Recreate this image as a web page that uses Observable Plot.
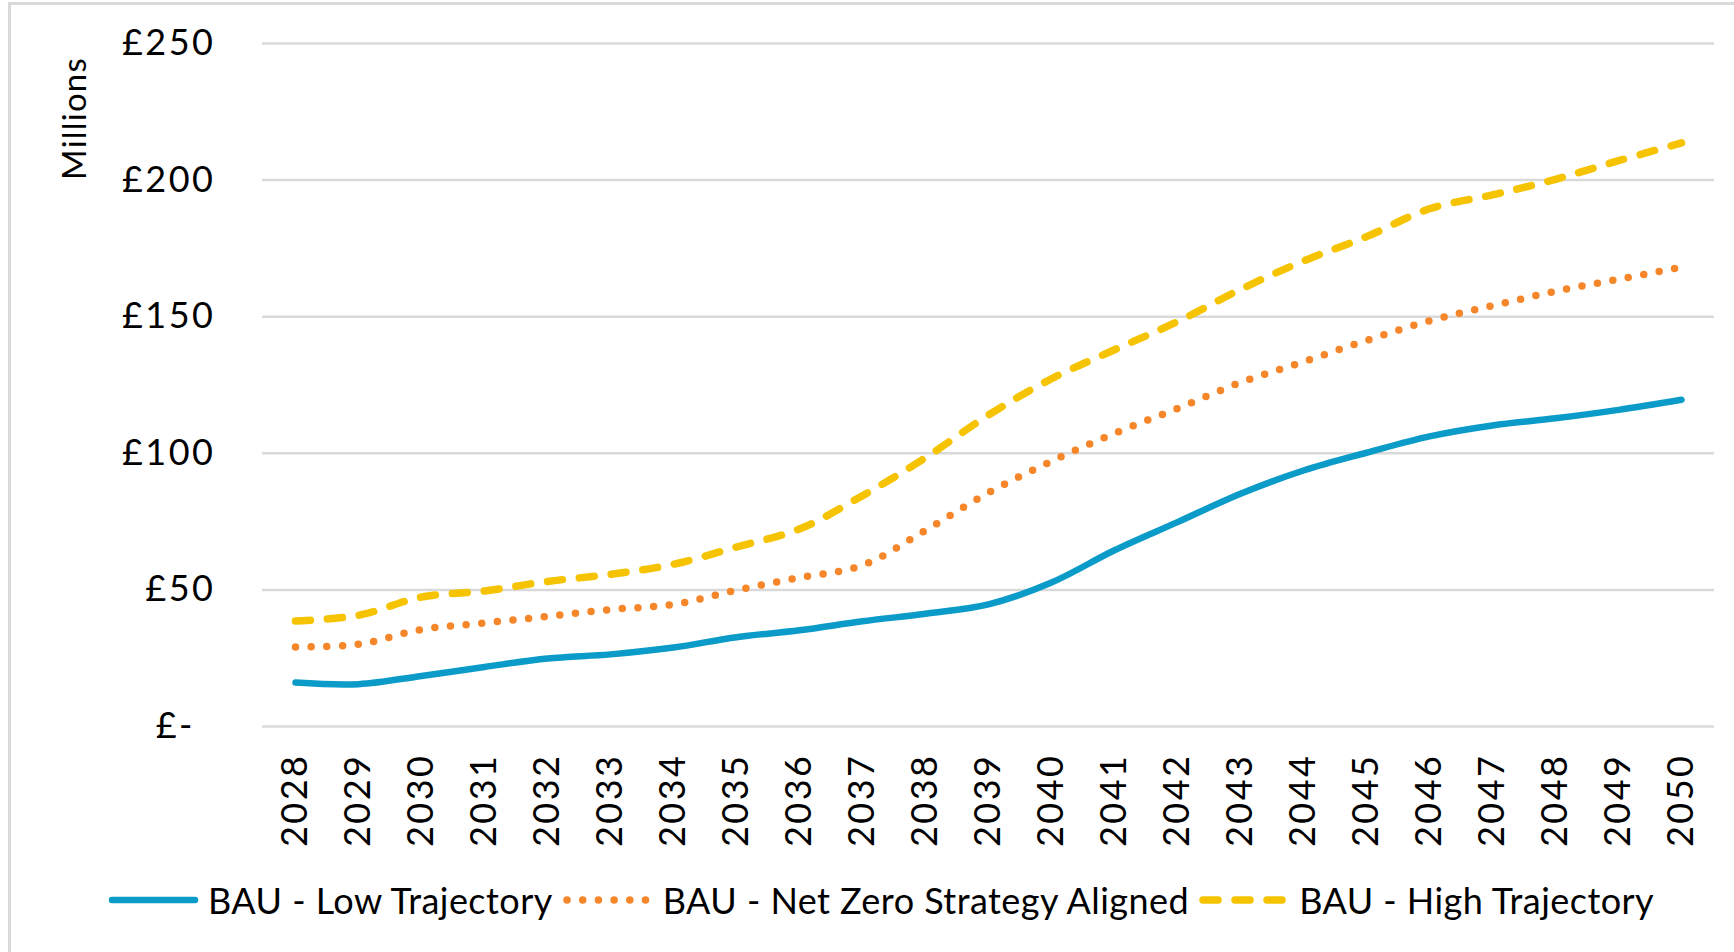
<!DOCTYPE html>
<html>
<head>
<meta charset="utf-8">
<script src="https://cdn.jsdelivr.net/npm/d3@7"></script>
<script src="https://cdn.jsdelivr.net/npm/@observablehq/plot@0.6"></script>
<style>
  html, body { margin: 0; padding: 0; background: #fff; overflow: hidden; }
  body { width: 1734px; height: 952px; position: relative; font-family: Lato, "Open Sans", sans-serif; }
  #frame { position: absolute; left: 8px; top: 2px; width: 1800px; height: 1000px;
           border-left: 3px solid #d9d9d9; border-top: 3px solid #d9d9d9; pointer-events: none; }
  #chart { position: absolute; left: 0; top: 0; }
  #chart svg text { letter-spacing: 2.5px; }
  #legend { position: absolute; left: 0; top: 870px; height: 60px; width: 1734px;
            display: flex; align-items: center; font-size: 36px; letter-spacing: 0.45px; color: #000; }
  .item { display: flex; align-items: center; white-space: nowrap; }
  .item svg { display: block; margin-right: 9px; }
</style>
</head>
<body>
<div id="frame"></div>
<div id="chart"></div>
<div id="legend"></div>
<script>
const years = [2028, 2029, 2030, 2031, 2032, 2033, 2034, 2035, 2036, 2037, 2038, 2039,
               2040, 2041, 2042, 2043, 2044, 2045, 2046, 2047, 2048, 2049, 2050];
const lowTrajectory = [16.1, 15.5, 18.5, 21.8, 24.9, 26.4, 28.9, 32.7, 35.2, 38.5, 41.3, 44.7,
                       52.7, 64.5, 74.8, 85.2, 93.7, 100.2, 106.2, 110.2, 112.8, 115.9, 119.6];
const netZeroAligned = [29.1, 30.1, 35.5, 37.9, 40.3, 42.8, 44.7, 49.9, 54.5, 59.0, 71.8, 85.6,
                        97.1, 107.3, 116.4, 125.9, 133.5, 141.3, 148.5, 154.0, 159.3, 163.7, 168.1];
const highTrajectory = [38.6, 40.7, 47.4, 49.6, 53.1, 55.7, 59.4, 65.7, 72.3, 84.5, 98.4, 114.0,
                        127.3, 137.9, 148.2, 160.0, 170.4, 179.3, 189.5, 194.6, 200.3, 207.1, 213.6];
const yTicks = [0, 50, 100, 150, 200, 250];
const seriesNames = ["BAU - Low Trajectory", "BAU - Net Zero Strategy Aligned", "BAU - High Trajectory"];
const seriesColors = ["#0a9bc8", "#f5862a", "#f5c300"];
const yLabel = "Millions";

const rows = (vals, name) => years.map((yr, i) => ({year: String(yr), value: vals[i], series: name}));
const lowRows = rows(lowTrajectory, seriesNames[0]);
const nzRows = rows(netZeroAligned, seriesNames[1]);
const highRows = rows(highTrajectory, seriesNames[2]);

const chart = Plot.plot({
  width: 1734,
  height: 860,
  marginLeft: 262,
  marginRight: 20,
  marginTop: 43,
  marginBottom: 134,
  style: {fontFamily: "Lato, 'Open Sans', sans-serif", fontSize: "36px", color: "#000", background: "transparent"},
  x: {type: "point", domain: years.map(String), padding: 0.5},
  y: {domain: [0, 250]},
  marks: [
    Plot.ruleY(yTicks, {stroke: "#d9d9d9", strokeWidth: 2.5}),
    Plot.axisY(yTicks, {tickSize: 0, tickPadding: 47, label: null,
      tickFormat: d => d === 0 ? "£-\u2002" : "£" + d}),
    Plot.axisX({tickSize: 0, tickPadding: 27, tickRotate: -90, label: null}),
    Plot.text([yLabel], {frameAnchor: "top-left", dx: -187, dy: 75, rotate: -90,
      textAnchor: "middle", lineAnchor: "middle", fontSize: 33, fill: "#000"}),
    Plot.line(lowRows, {x: "year", y: "value", stroke: seriesColors[0], strokeWidth: 6.5,
      curve: "catmull-rom", strokeLinecap: "round", strokeLinejoin: "round"}),
    Plot.line(nzRows, {x: "year", y: "value", stroke: seriesColors[1], strokeWidth: 7.5,
      curve: "catmull-rom", strokeLinecap: "round", strokeDasharray: "0 15.7"}),
    Plot.line(highRows, {x: "year", y: "value", stroke: seriesColors[2], strokeWidth: 7.5,
      curve: "catmull-rom", strokeLinecap: "round", strokeDasharray: "15 17"})
  ]
});
document.getElementById("chart").appendChild(chart);
d3.select(chart).selectAll("text")
  .filter(function() { return this.textContent === yLabel; })
  .style("letter-spacing", "1.2px");

// Legend
const legend = document.getElementById("legend");
const swatchStyles = [
  {w: 6.5, dash: null},
  {w: 7.5, dash: "0 15.7"},
  {w: 7.5, dash: "15 17"}
];
const offsets = [108, 10, 10];
seriesNames.forEach((name, i) => {
  const item = document.createElement("div");
  item.className = "item";
  item.style.marginLeft = offsets[i] + "px";
  const ns = "http://www.w3.org/2000/svg";
  const svg = document.createElementNS(ns, "svg");
  svg.setAttribute("width", 91);
  svg.setAttribute("height", 20);
  const line = document.createElementNS(ns, "line");
  line.setAttribute("x1", 4);
  line.setAttribute("x2", 87);
  line.setAttribute("y1", 10);
  line.setAttribute("y2", 10);
  line.setAttribute("stroke", seriesColors[i]);
  line.setAttribute("stroke-width", swatchStyles[i].w);
  line.setAttribute("stroke-linecap", "round");
  if (swatchStyles[i].dash) line.setAttribute("stroke-dasharray", swatchStyles[i].dash);
  svg.appendChild(line);
  item.appendChild(svg);
  const span = document.createElement("span");
  span.textContent = name;
  item.appendChild(span);
  legend.appendChild(item);
});
</script>
</body>
</html>
